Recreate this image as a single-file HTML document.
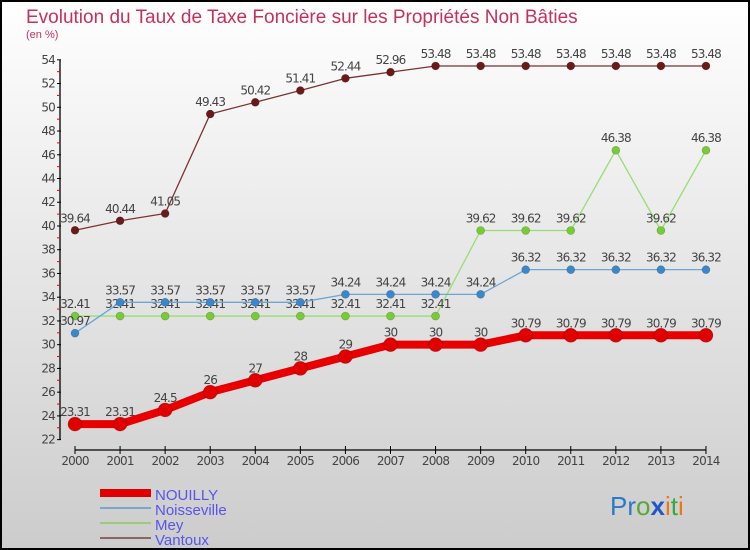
<!DOCTYPE html>
<html><head><meta charset="utf-8"><style>
body{margin:0;}
#c{width:750px;height:550px;position:relative;}
svg{display:block;font-family:"DejaVu Sans","Liberation Sans",sans-serif;}
</style></head><body>
<div id="c">
<svg id="s" width="750" height="550">
<defs><linearGradient id="bg" x1="0" y1="0" x2="0" y2="1"><stop offset="0" stop-color="#ffffff"/><stop offset="1" stop-color="#cccccc"/></linearGradient></defs>
<rect x="0" y="0" width="750" height="550" fill="url(#bg)"/>
<rect x="1" y="1" width="748" height="548" fill="none" stroke="#000" stroke-width="2"/>
<text x="26" y="23" font-size="19" fill="#c8305a" font-family="Liberation Sans, sans-serif">Evolution du Taux de Taxe Foncière sur les Propriétés Non Bâties</text>
<text x="26" y="38" font-size="11" fill="#c8305a" font-family="Liberation Sans, sans-serif">(en %)</text>
<g id="axes"></g><g id="series"></g>
<g>
<rect x="100" y="489" width="51" height="8" fill="#e00000"/>
<rect x="100" y="507" width="51" height="2" fill="#7aa8cc"/>
<rect x="100" y="522" width="51" height="2" fill="#99cc77"/>
<rect x="100" y="537" width="51" height="2" fill="#8a6666"/>
<g font-size="15" fill="#5555ee" font-family="Liberation Sans, sans-serif">
<text x="155" y="500">NOUILLY</text>
<text x="155" y="515">Noisseville</text>
<text x="155" y="530">Mey</text>
<text x="155" y="545">Vantoux</text>
</g></g>
<text x="610" y="515" font-size="26" font-family="Liberation Sans, sans-serif"><tspan fill="#2a7ac8">Pr</tspan><tspan fill="#55aa33">o</tspan><tspan fill="#2255cc" font-weight="bold">x</tspan><tspan fill="#ee7711">i</tspan><tspan fill="#33aa44">t</tspan><tspan fill="#ee7711">i</tspan></text>
</svg></div>
<script>
const years=[2000,2001,2002,2003,2004,2005,2006,2007,2008,2009,2010,2011,2012,2013,2014];
const nouilly=[23.31,23.31,24.5,26,27,28,29,30,30,30,30.79,30.79,30.79,30.79,30.79];
const noisseville=[30.97,33.57,33.57,33.57,33.57,33.57,34.24,34.24,34.24,34.24,36.32,36.32,36.32,36.32,36.32];
const mey=[32.41,32.41,32.41,32.41,32.41,32.41,32.41,32.41,32.41,39.62,39.62,39.62,46.38,39.62,46.38];
const vantoux=[39.64,40.44,41.05,49.43,50.42,51.41,52.44,52.96,53.48,53.48,53.48,53.48,53.48,53.48,53.48];
const yTicks=[22,24,26,28,30,32,34,36,38,40,42,44,46,48,50,52,54];
const NS="http://www.w3.org/2000/svg";
const X=i=>75+i*45.07;
const Y=v=>59.8+(54-v)*11.87;
function mk(t,a,p){const e=document.createElementNS(NS,t);for(const k in a)e.setAttribute(k,a[k]);p.appendChild(e);return e;}
const ax=document.getElementById('axes');
let l=mk('line',{x1:60,y1:Y(54),x2:60,y2:Y(22),stroke:'#000','stroke-width':1.3},ax);


yTicks.forEach(v=>{
 mk('line',{x1:57,y1:Y(v),x2:61,y2:Y(v),stroke:'#000'},ax);
 if(v<54) mk('line',{x1:57,y1:Y(v+1),x2:60,y2:Y(v+1),stroke:'#e00'},ax);
 const t=mk('text',{x:55,y:Y(v)+4,'text-anchor':'end','font-size':12,fill:'#444','letter-spacing':'-0.8'},ax);t.textContent=v;
 
 
});
l=mk('line',{x1:X(0),y1:450,x2:X(14),y2:450,stroke:'#000','stroke-width':1.3},ax);


years.forEach((y,i)=>{
 mk('line',{x1:X(i),y1:446,x2:X(i),y2:454,stroke:'#000'},ax);
 const t=mk('text',{x:X(i),y:465,'text-anchor':'middle','font-size':12,fill:'#444','letter-spacing':'-0.8'},ax);t.textContent=y;
 
 
});
const sg=document.getElementById('series');
function draw(name,vals,col,dot,w,r){
 const g=mk('g',{},sg);
 
 
 const pl=mk('polyline',{points:vals.map((v,i)=>X(i)+','+Y(v)).join(' '),fill:'none',stroke:col,'stroke-width':w,'stroke-linejoin':'round'},g);
 
 
 vals.forEach((v,i)=>{
  const c=mk('circle',{cx:X(i),cy:Y(v),r:r,fill:dot,stroke:'rgba(0,0,0,0.25)','stroke-width':0.6},g);
  
  
  const t=mk('text',{x:X(i),y:Y(v)-8,'text-anchor':'middle','font-size':12,fill:'#444','letter-spacing':'-0.9'},g);t.textContent=v;
  
  
 });
}
draw('vantoux',vantoux,'#7a3333','#6b1a1a',1.3,4);
draw('mey',mey,'#99dd77','#77cc33',1.3,4);
draw('noisseville',noisseville,'#6aa6d6','#3a88cc',1.3,4);
draw('nouilly',nouilly,'#e80000','#e00000',8,7);
</script>
</body></html>
